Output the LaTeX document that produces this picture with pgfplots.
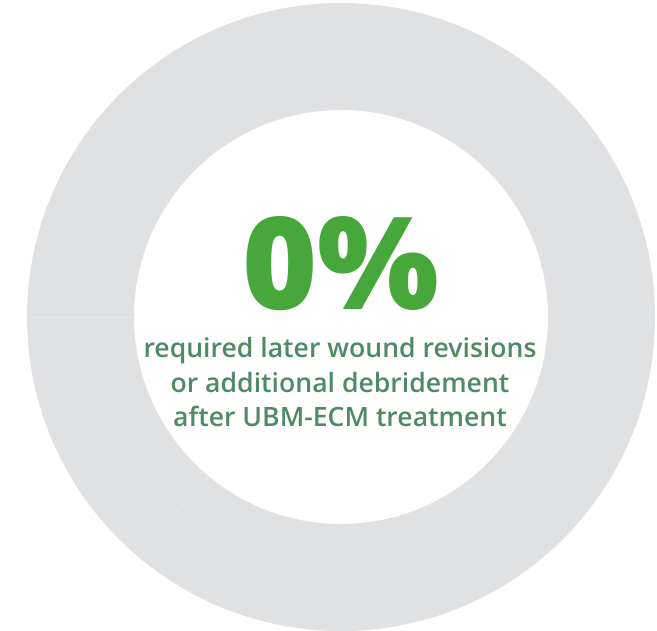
\documentclass[border=0pt]{standalone}
\usepackage{pgfplots}
\usepackage{pgfplotstable}
\pgfplotsset{compat=1.18}
\usetikzlibrary{calc}
\usepackage{fontspec}
\setmainfont{Open Sans}
\IfFontExistsTF{Open Sans ExtraBold}{\newfontfamily\bigfont{Open Sans ExtraBold}}{%
  \IfFontExistsTF{Open Sans Extrabold}{\newfontfamily\bigfont{Open Sans Extrabold}}{\newcommand\bigfont{\bfseries}}}
\IfFontExistsTF{Open Sans SemiBold}{\newfontfamily\subfont{Open Sans SemiBold}}{%
  \IfFontExistsTF{Open Sans Semibold}{\newfontfamily\subfont{Open Sans Semibold}}{\newcommand\subfont{\bfseries}}}
\definecolor{ringgray}{HTML}{E0E1E3}
\definecolor{seamgray}{HTML}{E7E8E9}
\definecolor{biggreen}{HTML}{46A83A}
\definecolor{subgreen}{HTML}{4E8B63}

\pgfplotstableread{
label value
Revisions 0
None 100
}\donutdata

\begin{document}
\begin{tikzpicture}
\pgfplotstablegetelem{0}{value}\of\donutdata \let\vA\pgfplotsretval
\pgfplotstablegetelem{1}{value}\of\donutdata \let\vB\pgfplotsretval
\pgfmathsetmacro\aStart{90}
\pgfmathsetmacro\aMid{90-3.6*\vA}
\pgfmathsetmacro\aEnd{\aMid-3.6*\vB}
\begin{axis}[hide axis, scale only axis, width=657bp, height=631bp,
  xmin=0, xmax=657, ymin=0, ymax=631, clip=false]
\path (axis cs:0,0) rectangle (axis cs:657,631);
% gray segment
\fill[ringgray] (axis cs:341,314) ++(\aMid:314bp) arc[start angle=\aMid, end angle=\aEnd, radius=314bp]
  -- ($(axis cs:341,314)+(\aEnd:207bp)$) arc[start angle=\aEnd, end angle=\aMid, radius=207bp] -- cycle;
% green segment (drawn only if non-zero)
\pgfmathparse{\vA>0 ? 1 : 0}
\ifnum\pgfmathresult=1
\fill[biggreen] (axis cs:341,314) ++(\aStart:314bp) arc[start angle=\aStart, end angle=\aMid, radius=314bp]
  -- ($(axis cs:341,314)+(\aMid:207bp)$) arc[start angle=\aMid, end angle=\aStart, radius=207bp] -- cycle;
\fi
% faint seams
\draw[seamgray, line width=0.6bp] (axis cs:341,314) ++(180:208bp) -- ++(180:105bp);
\draw[seamgray, line width=0.6bp] (axis cs:341,314) ++(230:208bp) -- ++(230:105bp);
\node[anchor=base, inner sep=0, text=biggreen, font=\bigfont\fontsize{129}{129}\selectfont] at (axis cs:341,321) {0\%};
\node[anchor=base, inner sep=0, text=subgreen, font=\subfont\fontsize{26.7}{26.7}\selectfont] at (axis cs:340,273) {required later wound revisions};
\node[anchor=base, inner sep=0, text=subgreen, font=\subfont\fontsize{26.7}{26.7}\selectfont] at (axis cs:340,238) {or additional debridement};
\node[anchor=base, inner sep=0, text=subgreen, font=\subfont\fontsize{26.7}{26.7}\selectfont] at (axis cs:340,204) {after UBM-ECM treatment};
\end{axis}
\end{tikzpicture}
\end{document}
